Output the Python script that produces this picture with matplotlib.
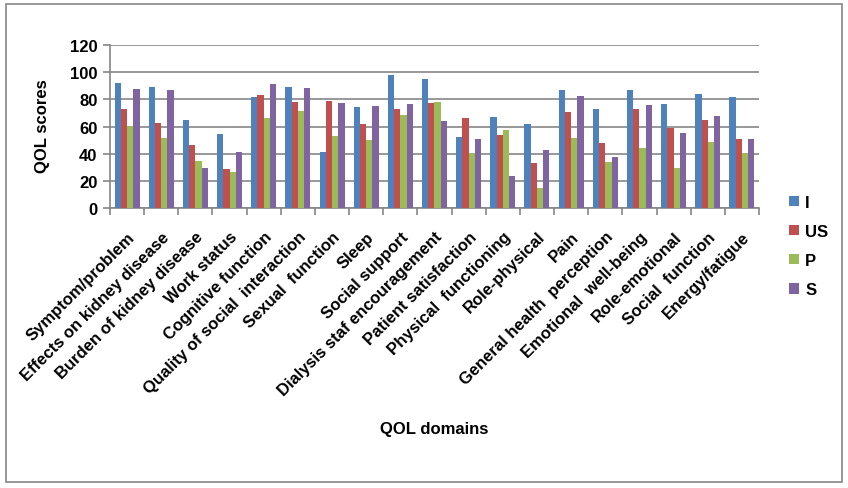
import matplotlib
matplotlib.use("Agg")
import matplotlib.pyplot as plt
import numpy as np
from matplotlib.patches import Rectangle

categories = ["Symptom/problem", "Effects on kidney disease", "Burden of kidney disease",
              "Work status", "Cognitive function", "Quality of social  interaction",
              "Sexual  function", "Sleep", "Social support", "Dialysis staf encouragement",
              "Patient satisfaction", "Physical  functioning", "Role-physical", "Pain",
              "General health  perception", "Emotional  well-being", "Role-emotional",
              "Social  function", "Energy/fatigue"]
series_names = ["I", "US", "P", "S"]
I_vals = [92.1, 89.2, 64.9, 54.5, 81.8, 89.2, 41.3, 74.4, 98.0, 95.1, 52.3, 67.1, 61.9, 87.0, 73.0, 87.0, 76.7, 84.0, 81.8]
US_vals = [73.0, 62.7, 46.4, 28.7, 83.3, 78.1, 78.9, 61.9, 73.0, 77.4, 66.3, 53.8, 33.2, 70.8, 47.9, 73.0, 59.0, 64.9, 50.9]
P_vals = [60.4, 51.6, 34.6, 26.5, 66.3, 71.5, 53.1, 50.1, 68.5, 78.1, 40.5, 57.5, 14.7, 51.6, 33.9, 44.2, 29.5, 48.6, 40.5]
S_vals = [87.7, 87.0, 29.5, 41.3, 91.4, 88.5, 77.4, 75.2, 76.7, 64.1, 50.9, 23.6, 42.8, 82.6, 37.6, 75.9, 55.3, 67.8, 50.9]
colors = ["#4F81BD", "#C0504D", "#9BBB59", "#8064A2"]

plt.rcParams['font.family'] = ['Liberation Sans', 'DejaVu Sans']
plt.rcParams['font.weight'] = 'bold'

W, H = 848, 489
fig = plt.figure(figsize=(W/100, H/100), dpi=100)
ax = fig.add_axes([110/W, 1-209/H, (759-110)/W, (209-46)/H])

n = len(categories)
x = np.arange(n)
bw = 0.183
allv = [I_vals, US_vals, P_vals, S_vals]
for k, (vals, c, name) in enumerate(zip(allv, colors, series_names)):
    ax.bar(x + (k-1.5)*bw, vals, width=bw, color=c, label=name, zorder=3)

ax.set_xlim(-0.5, n-0.5)
ax.set_ylim(0, 120)
ax.set_yticks(range(0, 121, 20))
ax.yaxis.grid(True, color="#868686", linewidth=1.2, zorder=0)
for s in ["top", "right"]:
    ax.spines[s].set_visible(False)
for s in ["left", "bottom"]:
    ax.spines[s].set_color("#868686")
    ax.spines[s].set_linewidth(1.2)
ax.set_xticks(np.arange(n+1)-0.5, minor=False)
ax.set_xticklabels([])
ax.set_xticks(x, minor=True)
ax.set_xticklabels(categories, minor=True, rotation=45, ha='right', va='top',
                   rotation_mode='anchor', fontsize=12, fontweight='bold')
ax.tick_params(axis='x', which='minor', length=0, pad=15)
ax.tick_params(axis='x', which='major', length=5, color="#868686", width=1.2)
ax.tick_params(axis='y', length=5, color="#868686", width=1.2, labelsize=12, pad=4)
for t in ax.get_yticklabels():
    t.set_fontweight('bold')

fig.text(42/W, 1-126/H, "QOL scores", rotation=90, ha='center', va='center',
         fontsize=12, fontweight='bold')
fig.text(434/W, 1-430/H, "QOL domains", ha='center', va='center',
         fontsize=12, fontweight='bold')

leg = fig.legend(loc='upper left', bbox_to_anchor=(782/W, 1-189/H), frameon=False,
                 fontsize=12, handlelength=0.6, handleheight=0.6,
                 labelspacing=0.85, handletextpad=0.4, borderaxespad=0)
for t in leg.get_texts():
    t.set_fontweight('bold')

fig.patches.append(Rectangle((6/W, 1-483/H), (842-6)/W, (483-5)/H, transform=fig.transFigure,
                             fill=False, edgecolor="#868686", linewidth=1.2))

fig.savefig("out.png", dpi=100)
